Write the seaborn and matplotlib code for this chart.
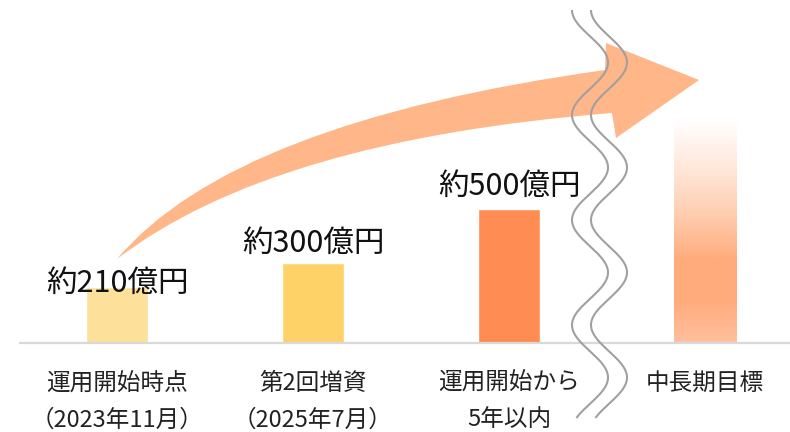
import numpy as np
import pandas as pd
import seaborn as sns
import matplotlib.pyplot as plt
from matplotlib.path import Path
from matplotlib.patches import PathPatch
from matplotlib.colors import LinearSegmentedColormap
from matplotlib.transforms import blended_transform_factory

sns.set_theme(style="white")
plt.rcParams["font.family"] = ["Noto Sans CJK JP", "DejaVu Sans"]

# --- data -------------------------------------------------------------
categories = ["運用開始時点", "第2回増資", "運用開始から", "中長期目標"]
sub_labels = ["（2023年11月）", "（2025年7月）", "5年以内", ""]
values = [210, 300, 500, 830]
value_labels = ["約210億円", "約300億円", "約500億円", ""]
bar_colors = ["#FDE09A", "#FED267", "#FF8C52", "#FFB080"]

# vertical offsets (points) of the value labels above each bar top
label_offsets = [2.5, 13.7, 16.6, 0]

df = pd.DataFrame({"category": categories, "value": values})

W, H = 790, 432
fig = plt.figure(figsize=(W / 100, H / 100), dpi=100)
fig.patch.set_facecolor("white")

base_px = 343           # baseline position from top (pixels)
px_per_unit = 0.2675    # bar scale
ax = fig.add_axes([0, 1 - base_px / H, 1, base_px / H])

sns.barplot(data=df, x="category", y="value", hue="category",
            palette=bar_colors, saturation=1, width=0.32,
            legend=False, ax=ax)

ax.set_xlim(-117 / 196, (W - 117) / 196)
ax.set_ylim(0, base_px / px_per_unit)
ax.axis("off")

# baseline
ax.hlines(0, -0.5, ax.get_xlim()[1], color="#D9D9D9", lw=1.6,
          clip_on=False, zorder=3)

# gradient fill for the long-term target bar
goal = ax.patches[3]
gx0, gw, gh = goal.get_x(), goal.get_width(), goal.get_height()
goal.set_facecolor("none")
grad_cmap = LinearSegmentedColormap.from_list(
    "goal",
    [(0.0, "#FFC09E"), (0.19, "#FFAB7B"), (0.37, "#FFAB7B"),
     (0.55, "#FFC9AA"), (0.75, "#FFE3D3"), (1.0, "#FFFFFF")])
grad = np.linspace(0, 1, 256).reshape(-1, 1)
img = ax.imshow(grad, cmap=grad_cmap, origin="lower", aspect="auto",
                extent=(gx0, gx0 + gw, 0, gh), zorder=2)
img.set_clip_path(goal)
ax.set_xlim(-117 / 196, (W - 117) / 196)
ax.set_ylim(0, base_px / px_per_unit)

# value labels
for i, (v, lab, off) in enumerate(zip(values, value_labels, label_offsets)):
    if lab:
        ax.annotate(lab, (i, v), xytext=(0, off), textcoords="offset points",
                    ha="center", va="center", fontsize=22, color="#111111",
                    zorder=6)

# category labels below the baseline
tr = blended_transform_factory(ax.transData, fig.transFigure)
for i, (c, s) in enumerate(zip(categories, sub_labels)):
    ax.text(i, 1 - 383 / H, c, transform=tr, ha="center", va="center",
            fontsize=17, color="#222222")
    if s:
        ax.text(i, 1 - 420 / H, s, transform=tr, ha="center", va="center",
                fontsize=17, color="#222222")

# --- decorations: growth arrow and break marks --------------------------
ov = fig.add_axes([0, 0, 1, 1], zorder=5)
ov.set_xlim(0, W)
ov.set_ylim(H, 0)
ov.axis("off")
ov.patch.set_alpha(0)

verts = [(117, 259), (232, 122), (605, 70),
         (606, 43), (699, 80), (616, 138), (612, 113),
         (272, 140), (117, 259), (117, 259)]
codes = [Path.MOVETO, Path.CURVE3, Path.CURVE3,
         Path.LINETO, Path.LINETO, Path.LINETO, Path.LINETO,
         Path.CURVE3, Path.CURVE3, Path.CLOSEPOLY]
ov.add_patch(PathPatch(Path(verts, codes), facecolor="#FFB689",
                       edgecolor="none"))

yy = np.linspace(10, 418, 500)
xx = 590 - 18 * np.cos(2 * np.pi * (yy - 10) / 105)
ov.plot(xx, yy, color="#A0A0A0", lw=1.5, solid_capstyle="butt")
ov.plot(xx + 19, yy, color="#A0A0A0", lw=1.5, solid_capstyle="butt")

fig.savefig("out.png", dpi=100, facecolor="white")
